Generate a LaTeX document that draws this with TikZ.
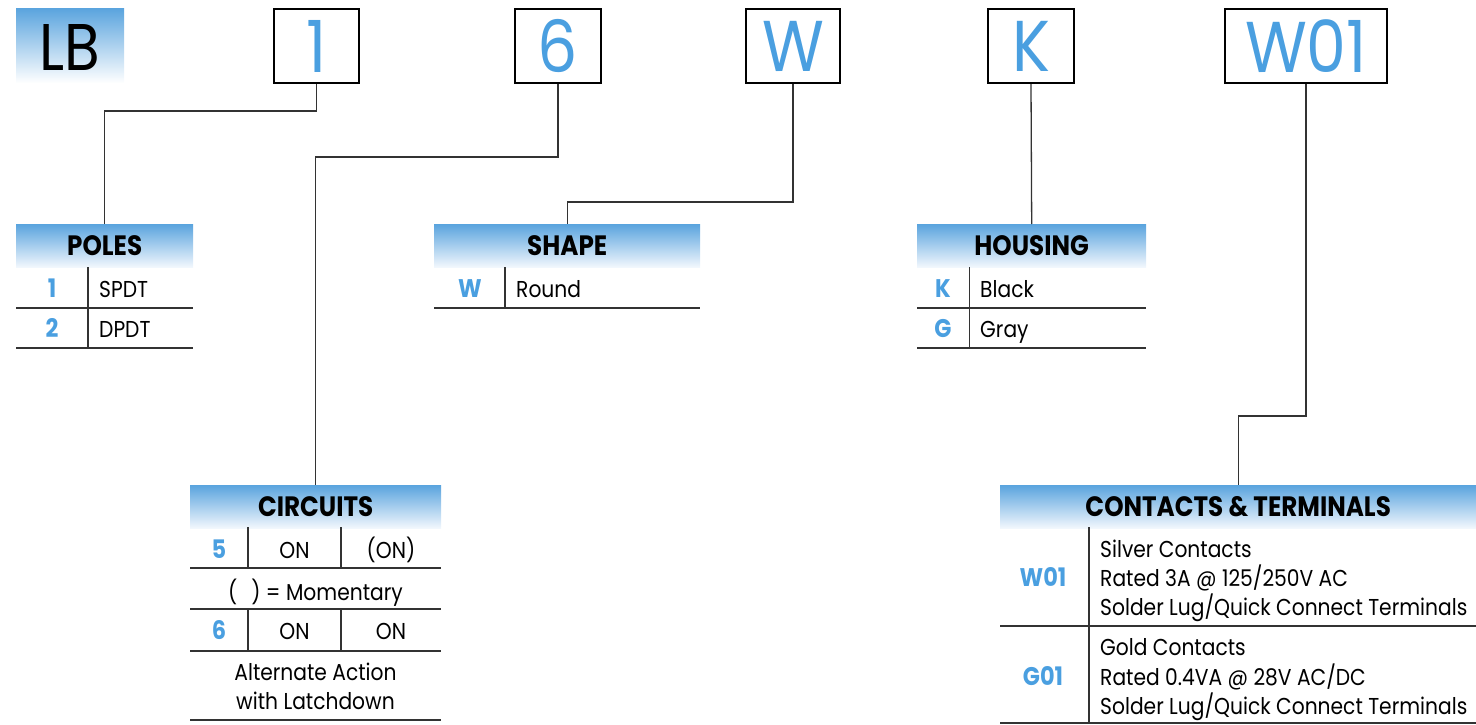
\documentclass[tikz,border=0pt]{standalone}
\usepackage{fontspec}
\setmainfont{Poppins}[FakeStretch=0.88]
\definecolor{hblue}{HTML}{5AA4DE}
\definecolor{hwhite}{HTML}{F2F7FD}
\definecolor{cblue}{HTML}{4A9FE0}
\definecolor{rulec}{HTML}{333333}
\begin{document}
\begin{tikzpicture}[x=1pt,y=-1pt,
  hdr/.style={rectangle, inner sep=0pt, minimum height=43pt, top color=hblue, bottom color=hwhite, anchor=north west, font=\fontsize{28}{30}\selectfont\bfseries},
  bigbox/.style={rectangle, draw=black, line width=2.2pt, inner sep=0pt, minimum height=74pt, text=cblue, font=\fontsize{72}{72}\selectfont},
  code/.style={inner sep=0pt, anchor=base, text=cblue, font=\fontsize{25.5}{27}\selectfont\bfseries},
  txt/.style={inner sep=0pt, anchor=base west, font=\fontsize{23}{26}\selectfont},
  ctxt/.style={inner sep=0pt, anchor=base, font=\fontsize{23}{26}\selectfont},
  rl/.style={draw=rulec, line width=1.5pt},
  conn/.style={draw=rulec, line width=1.3pt}
]
\useasboundingbox (0,0) rectangle (1476,725);

% LB box
\node[rectangle, inner sep=0pt, minimum width=108pt, minimum height=75pt, top color=hblue, bottom color=white, anchor=north west] (lb) at (16,8) {};
\node[inner sep=0pt, font=\fontsize{66}{66}\selectfont] (lbt) at (70,47) {LB};

% big boxes
\node[bigbox, minimum width=85pt] (b1) at (316.5,46) {1};
\node[bigbox, minimum width=86pt] (b6) at (558,46) {6};
\node[bigbox, minimum width=94pt] (bW) at (793,46) {W};
\node[bigbox, minimum width=86pt] (bK) at (1031,46) {K};
\node[bigbox, minimum width=162pt] (bW01) at (1306,46) {W01};

% POLES
\node[hdr, minimum width=177pt] (polesH) at (16,224) {POLES};
\node[code] (p1c) at (52,297) {1};
\node[txt] (p1t) at (99,297) {SPDT};
\node[code] (p2c) at (52,337) {2};
\node[txt] (p2t) at (99,337) {DPDT};
\draw[rl] (88,267) -- (88,348);
\draw[rl] (16,308) -- (193,308);
\draw[rl] (16,348) -- (193,348);

% SHAPE
\node[hdr, minimum width=266pt] (shapeH) at (434,224) {SHAPE};
\node[code] (swc) at (470,297) {W};
\node[txt] (swt) at (516,297) {Round};
\draw[rl] (505,267) -- (505,308);
\draw[rl] (434,308) -- (700,308);

% HOUSING
\node[hdr, minimum width=229pt] (housH) at (917,224) {HOUSING};
\node[code] (hkc) at (943,297) {K};
\node[txt] (hkt) at (980,297) {Black};
\node[code] (hgc) at (943,337) {G};
\node[txt] (hgt) at (980,337) {Gray};
\draw[rl] (969.5,267) -- (969.5,348);
\draw[rl] (917,308) -- (1146,308);
\draw[rl] (917,348) -- (1146,348);

% CIRCUITS
\node[hdr, minimum width=251pt] (circH) at (190,485) {CIRCUITS};
\node[code] (c5) at (219,558) {5};
\node[ctxt] (c5a) at (294.5,558) {ON};
\node[ctxt] (c5b) at (391,558) {(ON)};
\node[ctxt] (cmom) at (315.5,600.5) {(\hspace{14pt}) = Momentary};
\node[code] (c6) at (219,639) {6};
\node[ctxt] (c6a) at (294.5,639) {ON};
\node[ctxt] (c6b) at (391,639) {ON};
\node[ctxt] (calt1) at (315.5,680.5) {Alternate Action};
\node[ctxt] (calt2) at (315.5,709) {with Latchdown};
\draw[rl] (248,527) -- (248,568);
\draw[rl] (341,527) -- (341,568);
\draw[rl] (248,609) -- (248,651);
\draw[rl] (341,609) -- (341,651);
\draw[rl] (190,568) -- (441,568);
\draw[rl] (190,609) -- (441,609);
\draw[rl] (190,651) -- (441,651);
\draw[rl] (190,720) -- (441,720);

% CONTACTS & TERMINALS
\node[hdr, minimum width=476pt] (contH) at (1000,485) {CONTACTS \& TERMINALS};
\node[code] (cw) at (1043,586.5) {W01};
\node[txt] (cw1) at (1100,557) {Silver Contacts};
\node[txt] (cw2) at (1100,586.5) {Rated 3A @ 125/250V AC};
\node[txt] (cw3) at (1100,615.5) {Solder Lug/Quick Connect Terminals};
\node[code] (cg) at (1043,685) {G01};
\node[txt] (cg1) at (1100,655.5) {Gold Contacts};
\node[txt] (cg2) at (1100,685) {Rated 0.4VA @ 28V AC/DC};
\node[txt] (cg3) at (1100,714) {Solder Lug/Quick Connect Terminals};
\draw[rl] (1089,527) -- (1089,723);
\draw[rl] (1000,626) -- (1476,626);
\draw[rl] (1000,723) -- (1476,723);

% connectors
\draw[conn] (b1.south) -- ++(0,27) -| (polesH.north);
\draw[conn] (b6.south) -- ++(0,73) -| (circH.north);
\draw[conn] (bW.south) -- ++(0,118) -| (shapeH.north);
\draw[conn] (bK.south) -- (housH.north);
\draw[conn] (bW01.south) -- ++(0,332) -| (contH.north);
\end{tikzpicture}
\end{document}
